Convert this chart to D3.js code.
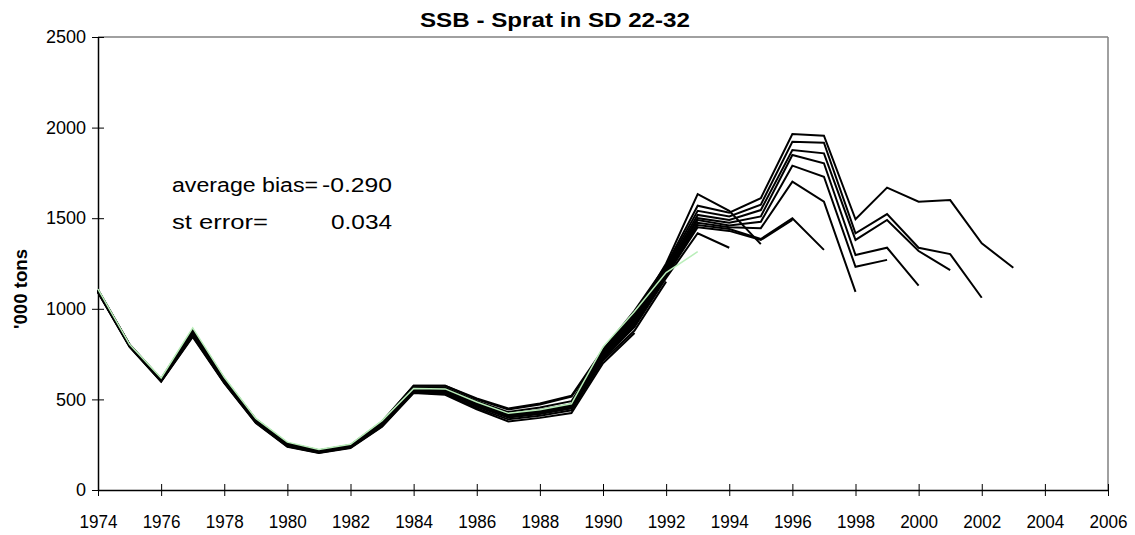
<!DOCTYPE html>
<html>
<head>
<meta charset="utf-8">
<script src="https://cdn.jsdelivr.net/npm/d3@7"></script>
<style>
  html, body { margin: 0; padding: 0; background: #fff; }
  svg { display: block; font-family: "Liberation Sans", Arial, sans-serif; }
</style>
</head>
<body>
<svg id="chart" width="1135" height="535"></svg>
<script>
// ---- data (SSB, '000 tons), each retrospective run starts in 1974 ----
const startYear = 1974;
const xTicks = [1974,1976,1978,1980,1982,1984,1986,1988,1990,1992,1994,1996,1998,2000,2002,2004,2006];
const yTicks = [0,500,1000,1500,2000,2500];

const run1991 = [1090,790,598,845,590,370,239,204,232,349,535,525,445,378,398,425,700,866];
const run1992 = [1092,792,600,850,592,372,241,206,234,352,540,530,452,390,410,440,715,880,1150];
const run1994 = [1094,794,602,855,595,375,243,208,236,355,545,538,460,400,420,450,725,900,1170,1417,1337];
const run1995 = [1105,802,612,885,615,390,258,220,248,378,575,575,500,445,472,515,760,960,1250,1633,1541,1357];
const run1996 = [1095,795,603,858,597,377,245,209,237,357,548,541,463,403,423,454,730,910,1180,1450,1430,1380,1490];
const run1997 = [1096,796,604,861,599,379,247,210,238,360,550,544,466,406,427,458,735,920,1185,1462,1440,1385,1500,1325];
const run1998 = [1097,797,605,864,601,380,248,211,239,362,552,547,470,409,430,462,740,930,1195,1475,1450,1445,1702,1591,1093];
const run1999 = [1098,798,606,867,603,382,250,212,240,364,555,550,473,412,434,466,745,940,1200,1490,1460,1480,1790,1729,1232,1270];
const run2000 = [1099,799,607,870,605,383,251,213,241,366,557,553,476,415,437,470,750,950,1210,1500,1475,1510,1849,1803,1297,1337,1128];
const run2001 = [1100,800,608,873,607,385,253,214,242,368,560,556,480,418,441,474,755,960,1220,1518,1490,1545,1876,1858,1380,1490,1319,1214];
const run2002 = [1102,801,610,877,609,387,255,216,244,371,566,564,490,430,455,490,765,975,1230,1541,1510,1575,1922,1917,1417,1523,1337,1302,1061];
const run2003 = [1104,803,612,880,612,390,258,218,246,375,575,575,505,450,478,520,775,990,1240,1569,1530,1610,1965,1955,1494,1669,1591,1600,1361,1227];
const run1993 = [1108,804,618,895,622,395,264,224,252,383,560,558,486,423,443,476,790,985,1200,1315]; // pale green series

const blackRuns = [run1991, run1992, run1994, run1995, run1996, run1997, run1998, run1999, run2000, run2001, run2002, run2003];
const greenRuns = [run1993];

const titleText = "SSB - Sprat in SD 22-32";
const yLabel = "'000 tons";
const biasLabel = "average bias=";
const biasValue = "-0.290";
const seLabel = "st error=";
const seValue = "0.034";

// ---- layout ----
const L = 98, R = 1108, T = 37, B = 490;
const svg = d3.select("#chart");
const x = d3.scaleLinear().domain([1974, 2006]).range([L, R]);
const y = d3.scaleLinear().domain([0, 2500]).range([B, T]);

// plot frame: grey top/right
svg.append("line").attr("x1", L).attr("x2", R).attr("y1", T).attr("y2", T)
  .attr("stroke", "#808080").attr("stroke-width", 1.5);
svg.append("line").attr("x1", R).attr("x2", R).attr("y1", T).attr("y2", B)
  .attr("stroke", "#808080").attr("stroke-width", 1.5);

// axes
const xAxis = d3.axisBottom(x).tickValues(xTicks).tickFormat(d3.format("d"))
  .tickSizeInner(6).tickSizeOuter(0).tickPadding(19);
const gx = svg.append("g").attr("transform", `translate(0,${B})`).call(xAxis);
gx.select(".domain").attr("stroke", "#000").attr("stroke-width", 1.5);
gx.selectAll(".tick line").attr("y1", -6).attr("stroke", "#000").attr("stroke-width", 1);
gx.selectAll(".tick text").attr("font-size", 18).attr("fill", "#000")
  .attr("textLength", 38).attr("lengthAdjust", "spacingAndGlyphs");

const yAxis = d3.axisLeft(y).tickValues(yTicks).tickFormat(d3.format("d"))
  .tickSizeInner(6).tickSizeOuter(0).tickPadding(6);
const gy = svg.append("g").attr("transform", `translate(${L},0)`).call(yAxis);
gy.select(".domain").attr("stroke", "#000").attr("stroke-width", 1.5);
gy.selectAll(".tick line").attr("x1", 6).attr("stroke", "#000").attr("stroke-width", 1);
gy.selectAll(".tick text").attr("font-size", 18).attr("fill", "#000");

// lines
const line = d3.line().x((d, i) => x(startYear + i)).y(d => y(d));
svg.append("g").selectAll("path.run").data(blackRuns).join("path")
  .attr("class", "run").attr("d", line).attr("fill", "none")
  .attr("stroke", "#000").attr("stroke-width", 2).attr("stroke-linejoin", "miter");
svg.append("g").selectAll("path.green").data(greenRuns).join("path")
  .attr("class", "green").attr("d", line).attr("fill", "none")
  .attr("stroke", "#b9eeb9").attr("stroke-width", 1.5);

// title
svg.append("text").attr("x", 420).attr("y", 27)
  .attr("font-size", 20).attr("font-weight", "bold")
  .attr("textLength", 270).attr("lengthAdjust", "spacingAndGlyphs").text(titleText);

// y label
svg.append("text").attr("transform", "translate(27,289) rotate(-90)")
  .attr("text-anchor", "middle").attr("font-size", 18).attr("font-weight", "bold")
  .attr("textLength", 80).attr("lengthAdjust", "spacingAndGlyphs").text(yLabel);

// annotation
svg.append("text").attr("x", 172).attr("y", 192).attr("font-size", 20)
  .attr("textLength", 146).attr("lengthAdjust", "spacingAndGlyphs").text(biasLabel);
svg.append("text").attr("x", 322).attr("y", 192).attr("font-size", 20)
  .attr("textLength", 70).attr("lengthAdjust", "spacingAndGlyphs").text(biasValue);
svg.append("text").attr("x", 172).attr("y", 229).attr("font-size", 20)
  .attr("textLength", 96).attr("lengthAdjust", "spacingAndGlyphs").text(seLabel);
svg.append("text").attr("x", 331).attr("y", 229).attr("font-size", 20)
  .attr("textLength", 61).attr("lengthAdjust", "spacingAndGlyphs").text(seValue);
</script>
</body>
</html>
